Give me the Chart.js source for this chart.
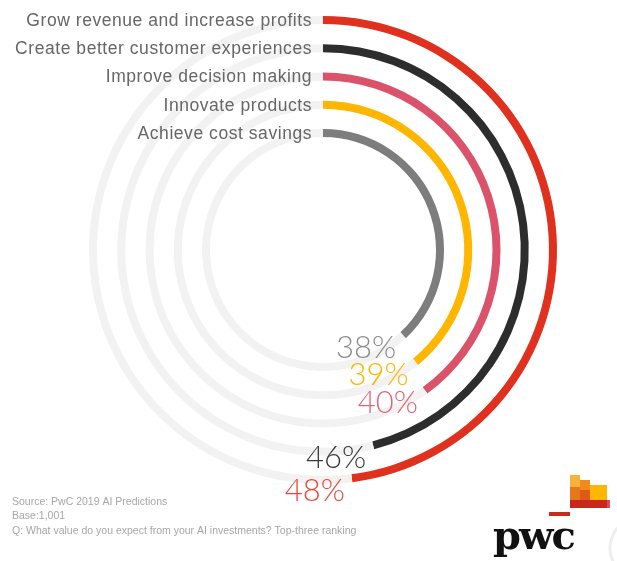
<!DOCTYPE html>
<html>
<head>
<meta charset="utf-8">
<script src="https://cdn.jsdelivr.net/npm/chart.js@4.4.1/dist/chart.umd.min.js"></script>
<style>
  html, body { margin: 0; padding: 0; background: #ffffff; }
  #wrap { position: relative; width: 617px; height: 561px; }
  canvas { display: block; }
</style>
</head>
<body>
<div id="wrap"><canvas id="c" width="617" height="561"></canvas></div>
<script>
// ---- data ----
const categories = [
  "Grow revenue and increase profits",
  "Create better customer experiences",
  "Improve decision making",
  "Innovate products",
  "Achieve cost savings"
];
const values = [48, 46, 40, 39, 38];
const valueLabels = ["48%", "46%", "40%", "39%", "38%"];
const footnotes = [
  "Source: PwC 2019 AI Predictions",
  "Base:1,001",
  "Q: What value do you expect from your AI investments? Top-three ranking"
];

// ---- styles ----
const ringColors = ["#e0301e", "#2d2d2d", "#db536a", "#ffb600", "#7d7d7d"];
const labelColors = ["#e8493c", "#3a3a3a", "#e0647c", "#ffb600", "#8c8c8c"];
const trackColor = "#f2f2f2";
const ringWeight = 8;
const gapWeight = 20.25;

const datasets = [];
values.forEach((v, i) => {
  if (i > 0) {
    datasets.push({
      data: [100],
      backgroundColor: ["rgba(0,0,0,0)"],
      borderWidth: 0,
      weight: gapWeight,
      _spacer: true
    });
  }
  datasets.push({
    label: categories[i],
    data: [v, 100 - v],
    backgroundColor: [ringColors[i], trackColor],
    borderWidth: 0,
    weight: ringWeight,
    _idx: i
  });
});

const labelPlugin = {
  id: "labels",
  afterDatasetsDraw(chart) {
    const ctx = chart.ctx;
    ctx.save();
    chart.data.datasets.forEach((ds, di) => {
      if (ds._spacer) return;
      const i = ds._idx;
      const arc = chart.getDatasetMeta(di).data[0];
      const p = arc.getProps(["x", "y", "startAngle", "endAngle", "innerRadius", "outerRadius"], true);
      const r = (p.innerRadius + p.outerRadius) / 2;
      // category label at ring start (top)
      ctx.font = "17.5px 'Liberation Sans', Arial, sans-serif";
      ctx.letterSpacing = "0.55px";
      ctx.fillStyle = "#666666";
      ctx.textAlign = "right";
      ctx.textBaseline = "middle";
      ctx.fillText(categories[i], p.x - 11, p.y - r + 1);
      // value label near arc end
      const ex = p.x + Math.cos(p.endAngle) * r;
      const ey = p.y + Math.sin(p.endAngle) * r;
      ctx.letterSpacing = "0px";
      ctx.font = "300 31px Lato, 'Liberation Sans', sans-serif";
      ctx.fillStyle = labelColors[i];
      ctx.textAlign = "right";
      ctx.textBaseline = "middle";
      ctx.fillText(valueLabels[i], ex - 7, ey + 13);
    });

    // footnotes
    ctx.font = "10.5px 'Liberation Sans', Arial, sans-serif";
    ctx.fillStyle = "#a6a6a6";
    ctx.textAlign = "left";
    ctx.textBaseline = "middle";
    const fy = [502, 516, 531];
    footnotes.forEach((t, k) => ctx.fillText(t, 12, fy[k]));

    // pwc logo
    ctx.fillStyle = "#f7b23a"; ctx.fillRect(570, 475, 10, 12);
    ctx.fillStyle = "#f08a1c"; ctx.fillRect(580, 480, 10, 10);
    ctx.fillStyle = "#e8761a"; ctx.fillRect(570, 487, 10, 13);
    ctx.fillStyle = "#de5a17"; ctx.fillRect(580, 490, 10, 10);
    ctx.fillStyle = "#ffb600"; ctx.fillRect(590, 485, 17, 15);
    ctx.fillStyle = "#c9271b"; ctx.fillRect(570, 500, 37, 8);
    ctx.fillStyle = "#e0485e"; ctx.fillRect(607, 500, 3, 8);
    ctx.fillStyle = "#cc2a1c"; ctx.fillRect(549, 512, 21, 4);
    ctx.font = "bold 40px 'DejaVu Serif', 'Liberation Serif', serif";
    ctx.fillStyle = "#111111";
    ctx.textAlign = "left";
    ctx.textBaseline = "alphabetic";
    ctx.letterSpacing = "-2px";
    ctx.fillText("pwc", 493, 549);
    ctx.letterSpacing = "0px";
    // faint circle fragment at right edge
    ctx.strokeStyle = "#eeeeee";
    ctx.lineWidth = 3;
    ctx.beginPath();
    ctx.arc(640, 548, 30, Math.PI * 0.6, Math.PI * 1.4);
    ctx.stroke();
    ctx.restore();
  }
};

new Chart(document.getElementById("c"), {
  type: "doughnut",
  data: { labels: ["value", "rest"], datasets },
  options: {
    responsive: false,
    animation: false,
    devicePixelRatio: 1,
    cutout: 113,
    rotation: 0,
    circumference: 360,
    layout: { padding: { left: 89, top: 16, right: 60, bottom: 77 } },
    plugins: {
      legend: { display: false },
      tooltip: { enabled: false }
    },
    events: []
  },
  plugins: [labelPlugin]
});
</script>
</body>
</html>
